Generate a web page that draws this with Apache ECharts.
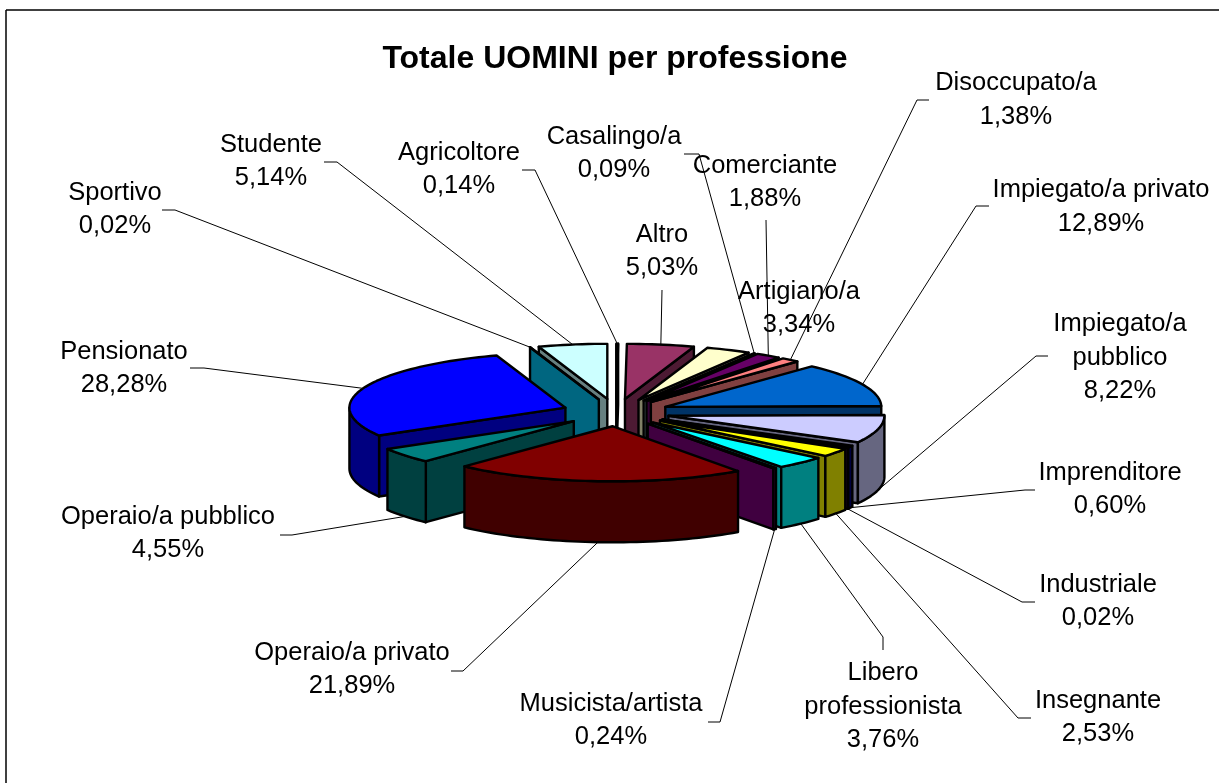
<!DOCTYPE html>
<html>
<head>
<meta charset="utf-8">
<title>Totale UOMINI per professione</title>
<script src="https://cdn.jsdelivr.net/npm/echarts@6/dist/echarts.min.js"></script>
<style>
  html, body { margin: 0; padding: 0; background: #fff; }
  #chart { width: 1219px; height: 783px; }
</style>
</head>
<body>
<div id="chart"></div>
<script>
// values, clockwise from the top
const categories = ['Agricoltore', 'Altro', 'Artigiano/a', 'Casalingo/a', 'Comerciante', 'Disoccupato/a',
  'Impiegato/a privato', 'Impiegato/a pubblico', 'Imprenditore', 'Industriale', 'Insegnante',
  'Libero professionista', 'Musicista/artista', 'Operaio/a privato', 'Operaio/a pubblico',
  'Pensionato', 'Sportivo', 'Studente']
const values = [0.14, 5.03, 3.34, 0.09, 1.88, 1.38, 12.89, 8.22, 0.60, 0.02, 2.53, 3.76, 0.24, 21.89, 4.55, 28.28, 0.02, 5.14]

const colors = ['#9999FF', '#993366', '#FFFFCC', '#CCFFFF', '#660066', '#FF8080', '#0066CC', '#CCCCFF', '#000080',
  '#FF00FF', '#FFFF00', '#00FFFF', '#800080', '#800000', '#008080', '#0000FF', '#00CCFF', '#CCFFFF']
const sideColors = ['#4D4D80', '#4D1A33', '#808066', '#668080', '#330033', '#804040', '#003366', '#666680', '#000040',
  '#800080', '#808000', '#008080', '#400040', '#400000', '#004040', '#000080', '#006680', '#668080']

// label text broken like in the original, and where each block sits
const labelLines = [['Agricoltore'], ['Altro'], ['Artigiano/a'], ['Casalingo/a'], ['Comerciante'], ['Disoccupato/a'],
  ['Impiegato/a privato'], ['Impiegato/a', 'pubblico'], ['Imprenditore'], ['Industriale'], ['Insegnante'],
  ['Libero', 'professionista'], ['Musicista/artista'], ['Operaio/a privato'], ['Operaio/a pubblico'],
  ['Pensionato'], ['Sportivo'], ['Studente']]
const labelX = [459, 662, 799, 614, 765, 1016, 1101, 1120, 1110, 1098, 1098, 883, 611, 352, 168, 124, 115, 271]
const labelY = [169.5, 251.5, 308.5, 153.5, 182.5, 100, 207, 357.5, 489.5, 601.5, 717.5, 706.5, 720.5, 669.5, 533.5, 368.5, 209.5, 161.5]
// leader start and elbow, null where the slice has no leader
const leaderStart = [[522, 170], [662, 290], null, [684, 154], [766, 220], [929, 100], [989, 206], [1048, 356], [1035, 490],
  [1035, 602], [1031, 718], [883, 650], [708, 722], [451, 671], [280, 535], [190, 368], [162, 210], [324, 162]]
const leaderElbow = [[535, 170], null, null, [699, 154], null, [917, 100], [976, 206], [1036, 356], [1025, 490],
  [1022, 602], [1018, 718], [883, 637], [720, 722], [463, 671], [292, 535], [204, 368], [175, 210], [337, 162]]

// pie geometry
const cx = 616
const cy = 412.5
const radius = 216
const tilt = 0.255
const explode = 54
const depth = 61

const total = values.reduce((a, b) => a + b, 0)
let cum = 0
const slices = values.map((v, i) => {
  const start = cum / total * Math.PI * 2
  cum += v
  const end = cum / total * Math.PI * 2
  return {i, start, end, mid: (start + end) / 2}
})
// painter order, back slices first
const drawOrder = slices.slice().sort((a, b) => Math.cos(b.mid) - Math.cos(a.mid))

function project(s, r, angle, drop) {
  const X = explode * Math.sin(s.mid) + r * Math.sin(angle)
  const Y = explode * Math.cos(s.mid) + r * Math.cos(angle)
  return [cx + X, cy - Y * tilt + drop]
}

function arcPoints(s, a, b, drop) {
  const steps = Math.max(1, Math.ceil((b - a) / 0.03))
  const pts = []
  for (let k = 0; k <= steps; k++) {
    pts.push(project(s, radius, a + (b - a) * k / steps, drop))
  }
  return pts
}

function face(points, fill) {
  return {
    type: 'polygon',
    shape: {points},
    style: {fill, stroke: '#000', lineWidth: 2.4, lineJoin: 'round'}
  }
}

function radialWall(s, angle, fill) {
  return face([
    project(s, 0, angle, 0), project(s, radius, angle, 0),
    project(s, radius, angle, depth), project(s, 0, angle, depth)
  ], fill)
}

function renderSlice(params, api) {
  const s = drawOrder[api.value(0)]
  const side = sideColors[s.i]
  const children = []
  // radial walls facing the viewer
  if (Math.sin(s.start) < 0) children.push(radialWall(s, s.start, side))
  if (Math.sin(s.end) > 0) children.push(radialWall(s, s.end, side))
  // outer wall, only the part of the rim turned to the front
  const a = Math.max(s.start, Math.PI / 2)
  const b = Math.min(s.end, Math.PI * 1.5)
  if (b > a) {
    children.push(face(arcPoints(s, a, b, 0).concat(arcPoints(s, a, b, depth).reverse()), side))
  }
  // top
  children.push(face([project(s, 0, s.mid, 0)].concat(arcPoints(s, s.start, s.end, 0)), colors[s.i]))
  return {type: 'group', children}
}

function renderLabel(params, api) {
  const i = api.value(0)
  const s = slices[i]
  const children = []
  if (leaderStart[i]) {
    const drop = Math.cos(s.mid) < 0 ? depth : 0
    const pts = [leaderStart[i]]
    if (leaderElbow[i]) pts.push(leaderElbow[i])
    pts.push(project(s, radius, s.mid, drop))
    children.push({
      type: 'polyline',
      shape: {points: pts},
      style: {fill: null, stroke: '#000', lineWidth: 1}
    })
  }
  const percent = values[i].toFixed(2).replace('.', ',') + '%'
  children.push({
    type: 'text',
    style: {
      text: labelLines[i].concat(percent).join('\n'),
      x: labelX[i],
      y: labelY[i],
      align: 'center',
      verticalAlign: 'middle',
      lineHeight: 33.5,
      fill: '#000',
      font: '25.5px "Liberation Sans", Arial, sans-serif'
    }
  })
  return {type: 'group', children}
}

const chart = echarts.init(document.getElementById('chart'))
chart.setOption({
  backgroundColor: '#fff',
  animation: false,
  title: {
    text: 'Totale UOMINI per professione',
    left: 610,
    top: 38,
    textAlign: 'center',
    textStyle: {fontFamily: '"Liberation Sans", Arial, sans-serif', fontWeight: 'bold', fontSize: 32, color: '#000'}
  },
  graphic: [
    {type: 'line', shape: {x1: 6, y1: 10, x2: 1219, y2: 10}, style: {stroke: '#000', lineWidth: 1.5}},
    {type: 'line', shape: {x1: 6, y1: 10, x2: 6, y2: 783}, style: {stroke: '#000', lineWidth: 1.5}}
  ],
  series: [
    {
      type: 'custom',
      coordinateSystem: 'none',
      silent: true,
      z: 2,
      data: drawOrder.map((s, k) => [k]),
      renderItem: renderSlice
    },
    {
      type: 'custom',
      coordinateSystem: 'none',
      silent: true,
      z: 3,
      data: categories.map((c, i) => [i]),
      renderItem: renderLabel
    }
  ]
})
</script>
</body>
</html>
